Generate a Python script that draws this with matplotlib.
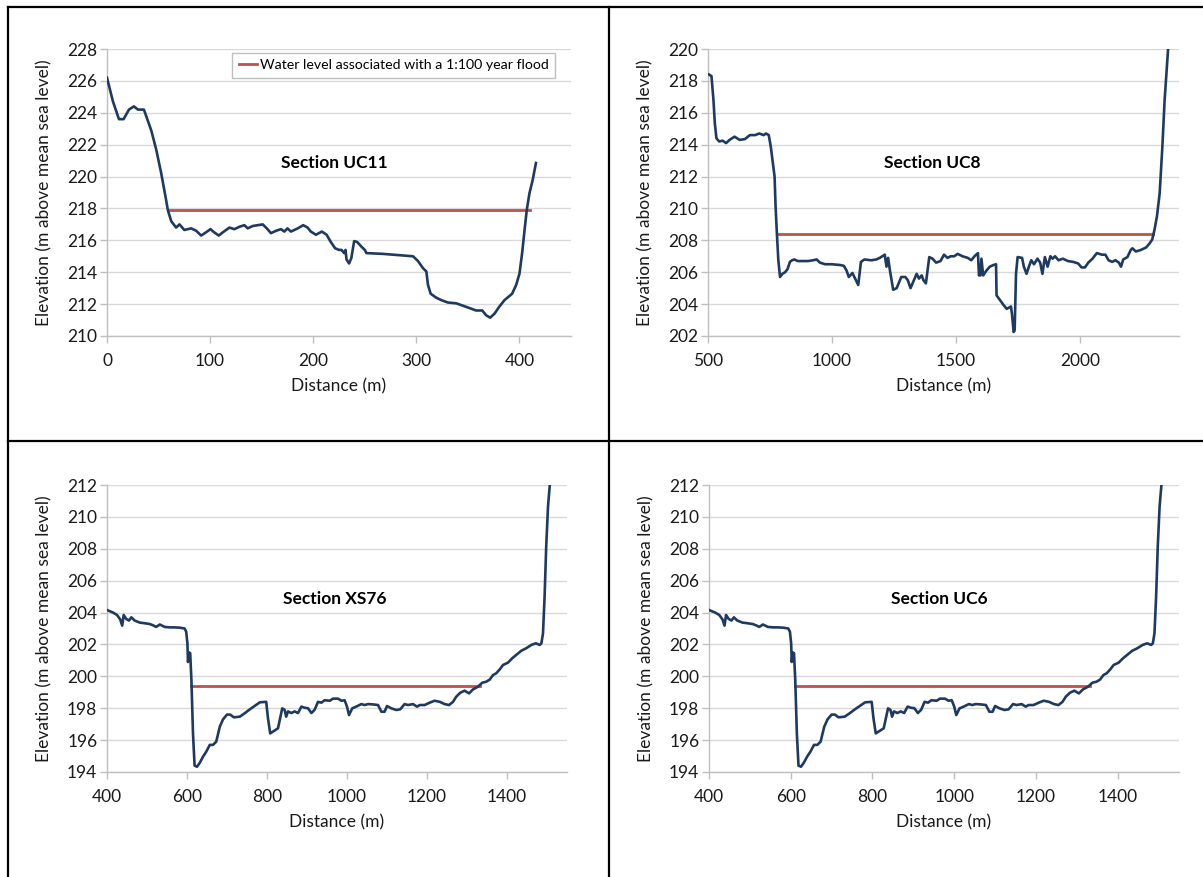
import matplotlib
matplotlib.use('Agg')
import matplotlib.pyplot as plt
from matplotlib.lines import Line2D

plt.rcParams['font.family'] = ['Lato', 'DejaVu Sans']

# Section UC11
uc11_x = [0, 5.8, 11.6, 16.1, 21.3, 26.1, 30, 35.8, 42.9, 47.7, 52.6, 57.4, 59, 62.3, 67, 70.3,
          75, 81.6, 86.5, 91.3, 96, 100.3, 104, 108.4, 112.3, 118.7, 123.5, 128.4, 133.2, 136.5,
          141.3, 146.1, 151, 155, 159, 164, 168.7, 172, 175, 178.4, 185, 190.3, 194.5, 197.7,
          202.6, 208.4, 213, 217, 221.3, 225, 227.4, 230, 231.3, 232.3, 234.8, 237, 239.7, 242.6,
          246.8, 250, 251.6, 267.7, 296.8, 301.6, 306.5, 309.7, 311.3, 313.9, 319.4, 324.2, 330.6,
          338.7, 345.2, 351.6, 358, 363.9, 367.7, 371.6, 375.8, 380.6, 385.5, 392.9, 396.8, 400,
          402.6, 404.8, 407.1, 409.7, 412.9, 416]
uc11_y = [226.2, 224.7, 223.6, 223.6, 224.2, 224.4, 224.2, 224.2, 222.9, 221.7, 220.2, 218.5,
          217.9, 217.2, 216.8, 217.0, 216.65, 216.75, 216.6, 216.3, 216.5, 216.7, 216.5, 216.3,
          216.5, 216.8, 216.7, 216.85, 216.95, 216.75, 216.9, 216.95, 217.0, 216.75, 216.45, 216.6,
          216.7, 216.55, 216.75, 216.55, 216.75, 216.95, 216.8, 216.55, 216.35, 216.55, 216.35,
          215.9, 215.5, 215.4, 215.4, 215.2, 215.4, 214.8, 214.55, 214.9, 215.95, 215.9, 215.6,
          215.4, 215.2, 215.15, 215.0, 214.7, 214.25, 214.05, 213.2, 212.65, 212.4, 212.25, 212.1,
          212.05, 211.9, 211.75, 211.6, 211.6, 211.3, 211.15, 211.4, 211.85, 212.25, 212.65, 213.2,
          213.9, 215.2, 216.55, 217.9, 218.95, 219.8, 220.85]
uc11_flood = [59, 410, 217.9]

# Section UC8
uc8_x = [504, 514, 522, 527.5, 534, 545, 559, 573, 587, 607, 628, 649, 669, 690, 707, 724.5, 734,
         745, 753, 761.7, 768.6, 772.7, 778, 783.7, 790.6, 800, 811, 821, 830.6, 839, 848.5, 862,
         883, 903.6, 924, 938, 952, 972.5, 1000, 1034, 1048, 1059, 1068, 1082.6, 1096.4, 1106,
         1117, 1131, 1158, 1179, 1193, 1213, 1220, 1226.6, 1233.5, 1247, 1261, 1279.6, 1296, 1306,
         1317, 1330.6, 1341.6, 1351, 1362, 1369, 1379, 1392.6, 1406, 1420, 1438, 1452, 1466, 1479,
         1493, 1507, 1527, 1548, 1562, 1575, 1589, 1593, 1599, 1603, 1610, 1623, 1637, 1651, 1662,
         1664, 1678, 1692, 1705, 1722, 1726, 1733, 1737, 1742.5, 1749, 1767, 1774, 1785, 1794.5,
         1804, 1815, 1829, 1840, 1849, 1859, 1870, 1881, 1890, 1900, 1914, 1931.5, 1952, 1972.6,
         1993, 2007, 2020.5, 2034, 2051, 2068.5, 2089, 2103, 2116, 2130, 2144, 2157.5, 2166, 2175,
         2192, 2205.5, 2212, 2226, 2246.6, 2267, 2281, 2292, 2301, 2311, 2322, 2333, 2342, 2356]
uc8_y = [218.4, 218.3, 216.8, 215.35, 214.4, 214.2, 214.25, 214.1, 214.3, 214.5, 214.3, 214.35,
         214.6, 214.6, 214.7, 214.6, 214.7, 214.6, 213.9, 212.85, 212.0, 210.1, 208.4, 206.75,
         205.7, 205.9, 206.0, 206.2, 206.65, 206.75, 206.8, 206.7, 206.7, 206.7, 206.75, 206.8,
         206.6, 206.5, 206.5, 206.45, 206.4, 206.1, 205.7, 205.95, 205.5, 205.2, 206.65, 206.8,
         206.75, 206.8, 206.9, 207.1, 206.35, 206.9, 206.15, 204.9, 205.0, 205.7, 205.7, 205.5,
         205.0, 205.5, 205.9, 205.6, 205.8, 205.5, 205.3, 206.95, 206.85, 206.6, 206.7, 207.1,
         206.9, 207.0, 207.0, 207.15, 207.0, 206.9, 206.75, 207.0, 207.2, 205.8, 205.8, 206.85,
         205.8, 206.1, 206.35, 206.45, 206.5, 204.55, 204.25, 203.95, 203.7, 203.85, 203.4,
         202.25, 202.35, 205.9, 206.95, 206.9, 206.35, 205.9, 206.35, 206.75, 206.5, 206.85,
         206.6, 205.9, 206.95, 206.35, 207.0, 206.85, 207.0, 206.75, 206.85, 206.7, 206.65,
         206.55, 206.3, 206.3, 206.6, 206.85, 207.2, 207.1, 207.1, 206.75, 206.65, 206.75, 206.6,
         206.35, 206.8, 206.95, 207.4, 207.5, 207.3, 207.4, 207.55, 207.8, 208.05, 208.65, 209.5,
         210.95, 213.9, 216.8, 220.0]
uc8_flood = [778, 2295, 208.4]

# Sections XS76 and UC6 (same ground profile)
xs76_x = [400, 415, 425, 433, 438, 441.7, 448, 455, 461, 469, 482, 494, 507, 515, 523, 532, 544,
          557, 569, 582, 594, 598, 601, 602.5, 605, 608, 611, 615, 619, 625, 632, 640, 648, 657,
          665, 673, 682, 690, 700, 708, 717, 732, 744, 757, 769, 782, 798, 802.5, 808, 819, 827.5,
          838, 844, 848, 852.5, 861, 869, 877.5, 886, 894, 902.5, 911, 919, 927.5, 936, 944, 957,
          965, 977.5, 986, 994, 1000, 1005, 1013, 1023, 1036, 1044, 1052.5, 1065, 1077.5, 1086,
          1094, 1100, 1111, 1123, 1133, 1144, 1152.5, 1165, 1175, 1182, 1194, 1207, 1219, 1232,
          1244, 1255, 1265, 1273, 1283, 1294, 1305, 1315, 1327.5, 1338, 1348, 1357, 1365, 1373,
          1382, 1390, 1402.5, 1413, 1423, 1436, 1448, 1461, 1472, 1482, 1486, 1490, 1494, 1498,
          1502.5, 1507]
xs76_y = [204.16, 204.0, 203.85, 203.57, 203.18, 203.85, 203.6, 203.5, 203.7, 203.5, 203.37,
          203.33, 203.28, 203.2, 203.1, 203.25, 203.1, 203.07, 203.07, 203.05, 203.0, 202.8,
          202.07, 200.9, 201.5, 201.45, 199.8, 196.4, 194.4, 194.33, 194.58, 194.96, 195.27, 195.7,
          195.7, 195.9, 196.84, 197.3, 197.6, 197.6, 197.43, 197.47, 197.68, 197.93, 198.14, 198.37,
          198.4, 197.36, 196.42, 196.6, 196.74, 197.99, 197.9, 197.47, 197.8, 197.7, 197.8, 197.7,
          198.1, 198.03, 198.0, 197.7, 197.9, 198.4, 198.35, 198.5, 198.47, 198.6, 198.6, 198.47,
          198.5, 198.1, 197.57, 197.99, 198.1, 198.26, 198.2, 198.26, 198.24, 198.2, 197.78,
          197.78, 198.14, 197.99, 197.89, 197.93, 198.26, 198.2, 198.26, 198.1, 198.2, 198.2,
          198.35, 198.47, 198.4, 198.26, 198.2, 198.4, 198.72, 198.97, 199.1, 198.93, 199.18,
          199.35, 199.6, 199.66, 199.8, 200.08, 200.19, 200.44, 200.71, 200.86, 201.13, 201.34,
          201.61, 201.76, 201.97, 202.07, 201.97, 202.07, 202.7, 205.0, 208.13, 210.64, 212.0]
xs76_flood = [611, 1332, 199.4]

titles = ['Section UC11', 'Section UC8', 'Section XS76', 'Section UC6']
legend_label = 'Water level associated with a 1:100 year flood'

NAVY = '#1f3a60'
RED = '#c0504d'
GRID = '#d9d9d9'
AXC = '#bfbfbf'

W, H = 1203, 877
fig = plt.figure(figsize=(W / 100, H / 100), dpi=100)


def add_ax(left, top, right, bottom):
    return fig.add_axes([left / W, 1 - bottom / H, (right - left) / W, (bottom - top) / H])


panels = [
    dict(box=(107, 49, 571, 336), x=uc11_x, y=uc11_y, fl=uc11_flood, xlim=(0, 450),
         xt=range(0, 401, 100), ylim=(210, 228), tx=0.49),
    dict(box=(708, 49, 1179, 336), x=uc8_x, y=uc8_y, fl=uc8_flood, xlim=(500, 2400),
         xt=range(500, 2001, 500), ylim=(202, 220), tx=0.477),
    dict(box=(107, 485, 567, 772), x=xs76_x, y=xs76_y, fl=xs76_flood, xlim=(400, 1550),
         xt=range(400, 1401, 200), ylim=(194, 212), tx=0.496),
    dict(box=(709, 485, 1179, 772), x=xs76_x, y=xs76_y, fl=xs76_flood, xlim=(400, 1550),
         xt=range(400, 1401, 200), ylim=(194, 212), tx=0.49),
]

for i, p in enumerate(panels):
    l, t, r, b = p['box']
    ax = add_ax(l, t, r, b)
    fl = p['fl']
    ax.plot([fl[0], fl[1]], [fl[2], fl[2]], color=RED, lw=2.0, label=legend_label, zorder=3)
    ax.plot(p['x'], p['y'], color=NAVY, lw=1.9, zorder=4, solid_joinstyle='round')
    ax.set_xlim(*p['xlim'])
    ax.set_ylim(*p['ylim'])
    ax.set_xticks(list(p['xt']))
    ax.set_yticks(range(p['ylim'][0], p['ylim'][1] + 1, 2))
    ax.grid(axis='y', color=GRID, lw=1.0)
    ax.set_axisbelow(True)
    for s in ['top', 'right']:
        ax.spines[s].set_visible(False)
    for s in ['left', 'bottom']:
        ax.spines[s].set_color(AXC)
        ax.spines[s].set_linewidth(1.0)
    ax.tick_params(axis='both', colors=AXC, labelcolor='#1a1a1a', labelsize=12.5,
                   length=5, width=1.0, direction='out')
    ax.tick_params(axis='x', pad=7)
    ax.tick_params(axis='y', pad=2)
    ax.set_xlabel('Distance (m)', fontsize=12.5, color='#1a1a1a')
    ax.set_ylabel('Elevation (m above mean sea level)', fontsize=12.5, color='#1a1a1a')
    ax.xaxis.set_label_coords(0.5, -50 / (b - t))
    ax.xaxis.label.set_va('center')
    ax.yaxis.set_label_coords(-63 / (r - l), 0.5)
    ax.yaxis.label.set_va('center')
    ax.text(p['tx'], 0.603, titles[i], transform=ax.transAxes, ha='center', va='center',
            fontsize=12.5, fontweight='bold', color='black')
    if i == 0:
        leg = ax.legend(loc='upper right', bbox_to_anchor=(0.966, 0.986), borderaxespad=0,
                        fontsize=10.2, handlelength=1.3, handletextpad=0.2, fancybox=False,
                        edgecolor=AXC, framealpha=1, borderpad=0.45)
        leg.get_frame().set_linewidth(1.0)

# table borders
for (x0, y0, x1, y1) in [(8, 7, W, 7), (8, 7, 8, H), (609, 7, 609, H), (8, 441, W, 441)]:
    fig.add_artist(Line2D([x0 / W, x1 / W], [1 - y0 / H, 1 - y1 / H], color='black', lw=1.6))

fig.savefig('out.png', dpi=100)
